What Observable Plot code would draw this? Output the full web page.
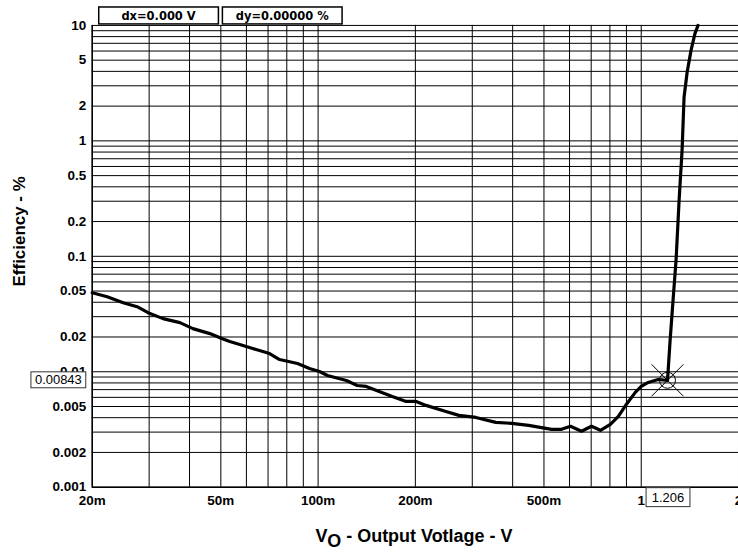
<!DOCTYPE html>
<html><head><meta charset="utf-8">
<script src="https://cdn.jsdelivr.net/npm/d3@7"></script>
<script src="https://cdn.jsdelivr.net/npm/@observablehq/plot@0.6"></script>
<style>html,body{margin:0;padding:0;background:#fff;overflow:hidden;width:738px;height:553px}</style>
</head><body><div id="chart"></div>
<script>
// Output voltage (V) and efficiency (%)
const vo = [0.0200,0.02225,0.02493,0.02753,0.02977,0.03311,0.03736,0.04097,0.04623,0.05034,0.05328,0.05721,0.06273,0.07076,0.07599,0.08635,0.09402,0.1010,0.1069,0.1223,0.1322,0.1409,0.1546,0.1696,0.1873,0.2010,0.2158,0.2487,0.2728,0.3078,0.3548,0.3974,0.4484,0.5280,0.5668,0.6041,0.6534,0.7015,0.7477,0.8026,0.8496,0.8992,0.9585,1.000,1.051,1.128,1.206,1.229,1.255,1.282,1.310,1.338,1.357,1.387,1.426,1.467,1.499];
const eff = [0.04838,0.04469,0.03964,0.03662,0.03249,0.02884,0.02662,0.02363,0.02140,0.01938,0.01825,0.01719,0.01588,0.01438,0.01276,0.01178,0.01066,0.01005,0.00928,0.00840,0.00760,0.00746,0.00675,0.00611,0.00553,0.00553,0.00511,0.00453,0.00419,0.00402,0.00364,0.00357,0.00343,0.00317,0.00317,0.00337,0.00305,0.00337,0.00311,0.00350,0.00411,0.00521,0.00662,0.00746,0.00808,0.00857,0.00843,0.0190,0.0421,0.0933,0.308,0.832,2.39,3.93,6.08,8.53,10];

const xTicks = [0.02,0.05,0.1,0.2,0.5,1,2];
const xTickLabels = ["20m","50m","100m","200m","500m","1","2"];
const yTicks = [0.001,0.002,0.005,0.01,0.02,0.05,0.1,0.2,0.5,1,2,5,10];
const yTickLabels = ["0.001","0.002","0.005","0.01","0.02","0.05","0.1","0.2","0.5","1","2","5","10"];
const xGrid = [0.02,0.03,0.04,0.05,0.06,0.07,0.08,0.09,0.1,0.2,0.3,0.4,0.5,0.6,0.7,0.8,0.9,1,2];
const yGrid = [0.001,0.002,0.003,0.004,0.005,0.006,0.007,0.008,0.009,0.01,0.02,0.03,0.04,0.05,0.06,0.07,0.08,0.09,0.1,0.2,0.3,0.4,0.5,0.6,0.7,0.8,0.9,1,2,3,4,5,6,7,8,9,10];

const cursorV = 1.206, cursorEff = 0.00843;
const cursorVLabel = "1.206", cursorEffLabel = "0.00843";
const headerLabels = ["dx=0.000 V","dy=0.00000 %"];
const yTitle = "Efficiency - %";

const data = vo.map((v,i)=>({v, e: eff[i]}));
const xTickData = xTicks.map((v,i)=>({v, label: xTickLabels[i]}));
const yTickData = yTicks.map((e,i)=>({e, label: yTickLabels[i]}));

const crossSymbol = {
  draw(ctx, size) {
    const r = Math.sqrt(size/Math.PI);
    ctx.moveTo(-r,-r); ctx.lineTo(r,r);
    ctx.moveTo(r,-r); ctx.lineTo(-r,r);
    const c = r/2;
    ctx.moveTo(c,0); ctx.arc(0,0,c,0,2*Math.PI);
  }
};

const chart = Plot.plot({
  width: 740, height: 553,
  marginLeft: 92, marginRight: 0, marginTop: 25, marginBottom: 65,
  style: {fontFamily: "'Liberation Sans', Arial, sans-serif", fontSize: "13.5px", fontWeight: "bold", color: "#000", background: "#fff", overflow: "visible"},
  x: {type: "log", domain: [0.02, 2], axis: null},
  y: {type: "log", domain: [0.001, 10], axis: null},
  marks: [
    Plot.ruleX(xGrid, {stroke: "#000", strokeWidth: 1}),
    Plot.ruleY(yGrid, {stroke: "#000", strokeWidth: 1}),
    Plot.ruleX([0.02], {stroke: "#000", strokeWidth: 1.5}),
    Plot.ruleY([0.001], {stroke: "#000", strokeWidth: 1.5}),
    Plot.text(xTickData, {x: "v", frameAnchor: "bottom", text: "label", dy: 14, lineAnchor: "middle", fontSize: 13.5, fontWeight: "bold", fill: "#000"}),
    Plot.text(yTickData, {y: "e", frameAnchor: "left", text: "label", dx: -6, textAnchor: "end", fontSize: 13.5, fontWeight: "bold", fill: "#000"}),
    Plot.line(data, {x: "v", y: "e", stroke: "#000", strokeWidth: 3.2, strokeLinejoin: "round"}),
    Plot.dot([{v: cursorV, e: cursorEff}], {x: "v", y: "e", r: 16, symbol: crossSymbol, fill: "none", stroke: "#000", strokeWidth: 1})
  ]
});
document.getElementById("chart").appendChild(chart);

const svg = d3.select(chart);
const sx = chart.scale("x"), sy = chart.scale("y");
const cx = sx.apply(cursorV), cy = sy.apply(cursorEff);

// y readout box
const gy = svg.append("g");
gy.append("rect").attr("x", 31).attr("y", cy - 8).attr("width", 55).attr("height", 16)
  .attr("fill", "#fff").attr("stroke", "#333").attr("stroke-width", 1);
gy.append("text").attr("x", 58.5).attr("y", cy + 4.5).attr("text-anchor", "middle")
  .attr("font-weight", "normal").attr("font-size", "13px").text(cursorEffLabel);

// x readout box
const gx = svg.append("g");
gx.append("rect").attr("x", cx - 21).attr("y", 489).attr("width", 44).attr("height", 19)
  .attr("fill", "#fff").attr("stroke", "#333").attr("stroke-width", 1);
gx.append("text").attr("x", cx + 1).attr("y", 503).attr("text-anchor", "middle")
  .attr("font-weight", "normal").attr("font-size", "13px").text(cursorVLabel);

// header boxes
[[99, 120], [223, 120]].forEach(([bx, bw], i) => {
  svg.append("rect").attr("x", bx).attr("y", 7).attr("width", bw).attr("height", 17)
    .attr("fill", "#fff").attr("stroke", "#000").attr("stroke-width", 1.5);
  svg.append("text").attr("x", bx + bw/2).attr("y", 20).attr("text-anchor", "middle")
    .attr("font-family", "'DejaVu Sans', sans-serif").attr("font-weight", "bold").attr("font-size", "11.5px")
    .text(headerLabels[i]);
});

// axis titles
const xt = svg.append("text").attr("x", 415).attr("y", 543).attr("text-anchor", "middle")
  .attr("font-size", "18px").attr("font-weight", "bold");
xt.append("tspan").text("V");
xt.append("tspan").attr("dy", 5).text("O");
xt.append("tspan").attr("dy", -5).text(" - Output Votlage - V");

svg.append("text").attr("transform", "translate(25,232) rotate(-90)").attr("text-anchor", "middle")
  .attr("font-size", "17px").attr("font-weight", "bold").text(yTitle);
</script>
</body></html>
